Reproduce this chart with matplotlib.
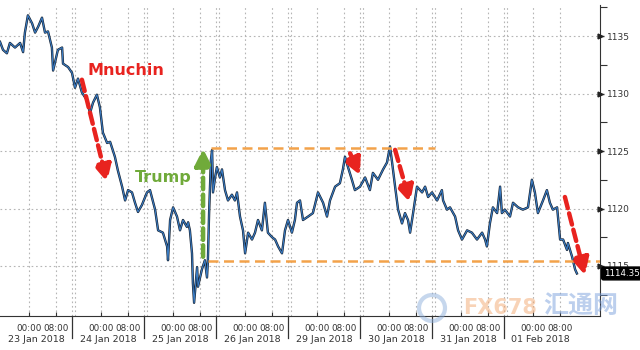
import matplotlib
matplotlib.use("Agg")
import matplotlib.pyplot as plt
import matplotlib.transforms as mtransforms
from matplotlib.patches import Ellipse

# trading hours since start (24 per trading day) and index level
hours = [
    0.0, 1.0, 2.3, 3.3, 5.0, 6.7, 7.7, 8.3, 9.3, 10.7,
    11.7, 12.7, 14.0, 15.0, 16.0, 17.3, 17.7, 19.3, 20.7, 21.0,
    22.7, 24.0, 25.0, 26.0, 27.3, 29.0, 30.0, 31.0, 32.3, 33.3,
    34.3, 35.7, 36.7, 38.3, 39.3, 40.7, 41.7, 42.7, 44.0, 45.0,
    46.0, 47.3, 49.0, 50.0, 51.7, 52.7, 54.3, 55.7, 56.0, 56.7,
    57.7, 59.0, 60.0, 61.0, 62.3, 62.7, 63.3, 64.0, 64.3, 64.7,
    65.7, 66.0, 67.3, 68.3, 69.0, 69.3, 69.7, 70.3, 70.7, 71.0,
    71.7, 72.3, 73.3, 74.0, 75.0, 76.0, 77.3, 78.3, 79.0, 80.0,
    81.0, 81.7, 82.7, 84.0, 85.0, 86.0, 87.3, 88.3, 89.3, 90.7,
    91.7, 92.7, 94.0, 95.0, 96.0, 97.3, 98.3, 99.0, 100.0, 101.0,
    102.7, 104.3, 106.0, 107.7, 109.0, 110.0, 111.7, 113.3, 114.3, 115.0,
    116.0, 117.3, 118.3, 120.0, 121.7, 123.3, 124.3, 126.0, 127.7, 129.0,
    130.0, 130.7, 131.7, 132.7, 134.0, 135.0, 136.0, 136.7, 137.7, 139.0,
    140.7, 141.7, 142.7, 144.0, 145.7, 147.3, 147.7, 149.0, 150.0, 151.7,
    152.7, 154.0, 155.7, 157.3, 159.0, 160.7, 161.7, 162.3, 163.3, 164.3,
    165.7, 166.7, 167.3, 168.3, 170.0, 171.0, 172.7, 174.3, 176.0, 177.3,
    178.3, 179.3, 181.0, 182.3, 183.3, 184.3, 185.7, 186.7, 187.7, 189.0,
    189.3, 190.7, 191.7, 192.3,
]
price = [
    1134.5, 1133.8, 1133.5, 1134.4, 1134.0, 1134.4, 1133.6, 1135.3, 1136.8, 1136.1,
    1135.3, 1135.8, 1136.6, 1135.3, 1135.4, 1134.0, 1132.0, 1133.8, 1134.0, 1132.6,
    1132.3, 1131.8, 1130.5, 1131.3, 1130.1, 1129.4, 1128.3, 1129.2, 1129.9, 1128.8,
    1126.6, 1125.7, 1125.8, 1124.5, 1123.3, 1121.9, 1120.7, 1121.6, 1121.4, 1120.5,
    1119.7, 1120.3, 1121.4, 1121.6, 1119.9, 1118.1, 1117.9, 1116.7, 1115.5, 1119.0,
    1120.1, 1119.3, 1118.1, 1119.0, 1118.4, 1118.8, 1118.1, 1116.1, 1113.5, 1111.8,
    1114.9, 1113.2, 1114.7, 1115.5, 1114.0, 1115.5, 1119.6, 1124.2, 1125.1, 1121.4,
    1122.7, 1123.6, 1122.7, 1123.4, 1121.6, 1120.7, 1121.2, 1120.7, 1121.4, 1119.3,
    1118.1, 1116.1, 1117.9, 1117.3, 1117.9, 1119.0, 1118.1, 1120.5, 1117.9, 1117.5,
    1117.3, 1116.7, 1116.1, 1118.1, 1119.0, 1117.9, 1119.0, 1120.5, 1120.7, 1119.0,
    1119.3, 1119.6, 1121.4, 1120.5, 1119.3, 1120.7, 1121.9, 1122.2, 1123.4, 1124.5,
    1123.6, 1122.5, 1121.6, 1121.9, 1122.7, 1121.6, 1123.1, 1122.5, 1123.4, 1124.0,
    1125.4, 1124.0, 1121.9, 1119.9, 1118.7, 1119.6, 1119.0, 1117.9, 1119.6, 1121.9,
    1121.4, 1121.9, 1121.0, 1121.4, 1120.7, 1121.6, 1120.7, 1119.9, 1120.1, 1119.3,
    1118.1, 1117.3, 1118.1, 1117.9, 1117.3, 1117.9, 1117.3, 1116.7, 1118.7, 1120.1,
    1119.6, 1121.9, 1119.6, 1119.9, 1119.3, 1120.5, 1120.1, 1119.9, 1120.1, 1122.5,
    1121.4, 1119.6, 1120.7, 1121.6, 1120.5, 1119.9, 1120.1, 1117.3, 1117.3, 1116.4,
    1117.0, 1115.8, 1114.7, 1114.35,
]
days = ["23 Jan 2018", "24 Jan 2018", "25 Jan 2018", "26 Jan 2018",
        "29 Jan 2018", "30 Jan 2018", "31 Jan 2018", "01 Feb 2018"]
yticks = [1115, 1120, 1125, 1130, 1135]
last_value = 1114.35

# support / resistance band
resist, resist_x = 1125.3, (70.3, 145.0)
support, support_x = 1115.4, (69.3, 200.0)

RED = "#e8231f"
GREEN = "#70aa3a"
ORANGE = "#f3a24a"

fig = plt.figure(figsize=(6.4, 3.5), dpi=100)
ax = fig.add_axes([0.0, 1 - 316 / 350, 600 / 640, 311 / 350])
ax.set_xlim(0, 200)
ax.set_ylim(1110.65, 1137.7)

# grid
grid_kw = dict(color="#b5b5b5", lw=0.8, ls=(0, (1.5, 2.5)), zorder=0)
for y in yticks:
    ax.axhline(y, **grid_kw)
for d in range(len(days)):
    for off in (9.5, 18.5):
        ax.axvline(d * 24 + off, **grid_kw)
    if d > 0:
        ax.axvline(d * 24, **grid_kw)
        ax.axvline(d * 24 + 1, **grid_kw)

# price line (dark edge + blue)
ax.plot(hours, price, color="#15202e", lw=1.7, zorder=3)
ax.plot(hours, price, color="#3a7cc4", lw=0.8, zorder=4)

# orange dashed band
ax.plot(resist_x, [resist, resist], color=ORANGE, lw=1.8, ls=(0, (4, 2.2)), zorder=5)
ax.plot(support_x, [support, support], color=ORANGE, lw=1.8, ls=(0, (4, 2.2)), zorder=5)


def dashed_arrow(start, end, color):
    ax.annotate("", xy=end, xytext=start,
                arrowprops=dict(arrowstyle="-|>,head_length=1.0,head_width=0.5",
                                color=color, lw=3.2, ls=(0, (2.6, 1.2)),
                                shrinkA=0, shrinkB=0, mutation_scale=10),
                zorder=6)


dashed_arrow((27.3, 1131.2), (35.7, 1122.3), RED)
dashed_arrow((116.7, 1124.8), (120.0, 1122.9), RED)
dashed_arrow((131.7, 1125.1), (136.7, 1120.5), RED)
dashed_arrow((188.3, 1121.0), (195.0, 1114.2), RED)
dashed_arrow((67.7, 1115.8), (67.7, 1125.2), GREEN)

ax.text(29.3, 1132.0, "Mnuchin", color=RED, fontsize=11.5, fontweight="bold",
        ha="left", va="center", zorder=7)
ax.text(45.0, 1122.7, "Trump", color=GREEN, fontsize=11.5, fontweight="bold",
        ha="left", va="center", zorder=7)

# axes styling
for s in ("top", "left"):
    ax.spines[s].set_visible(False)
ax.spines["right"].set_color("#333333")
ax.spines["bottom"].set_color("#333333")
ax.yaxis.tick_right()
ax.set_yticks(yticks)
ax.set_yticks([1112.5, 1117.5, 1122.5, 1127.5, 1132.5, 1137.5], minor=True)
ax.tick_params(axis="y", which="major", length=3, width=1, colors="#333333",
               labelsize=6.5, pad=2)
ax.tick_params(axis="y", which="minor", length=5, width=0.8, colors="#333333")
ax.plot([1.0] * len(yticks), yticks, marker=">", ms=3.5, color="#222222", ls="none",
        transform=ax.get_yaxis_transform(), clip_on=False, zorder=8)

xt = [d * 24 + off for d in range(len(days)) for off in (9.5, 18.5)]
ax.set_xticks(xt)
ax.set_xticklabels([])
ax.tick_params(axis="x", direction="in", length=3, width=0.8, colors="#333333")

trans = mtransforms.blended_transform_factory(ax.transData, ax.transAxes)
for d, label in enumerate(days):
    ax.text(d * 24 + 9.8, -0.025, "00:00", transform=trans, ha="center", va="top",
            fontsize=6.3, color="#333333")
    ax.text(d * 24 + 18.8, -0.025, "08:00", transform=trans, ha="center", va="top",
            fontsize=6.3, color="#333333")
    ax.text(d * 24 + 12, -0.06, label, transform=trans, ha="center", va="top",
            fontsize=6.8, color="#333333")
    if d > 0:
        ax.plot([d * 24, d * 24], [0, -0.07], transform=trans, color="#333333",
                lw=0.9, clip_on=False)

# last value tag
tag_trans = mtransforms.blended_transform_factory(ax.transAxes, ax.transData)
ax.text(1.006, last_value, f"{last_value:.2f}", transform=tag_trans, ha="left",
        va="center", fontsize=6.3, color="white", zorder=10,
        bbox=dict(boxstyle="round,pad=0.22", fc="black", ec="black"))

# watermark
fig.add_artist(Ellipse((432 / 640, 1 - 308 / 350), 26 / 640, 26 / 350,
                       transform=fig.transFigure, fill=False, ec="#8fb0dc",
                       lw=3, alpha=0.5))
fig.text(463 / 640, 1 - 308 / 350, "FX678", color="#f3a870", alpha=0.5,
         fontsize=15, fontweight="bold", ha="left", va="center")
fig.text(543 / 640, 1 - 306 / 350, "汇通网", color="#7aa0dc", alpha=0.5,
         fontsize=18, fontweight="bold", ha="left", va="center",
         family=["Noto Sans CJK SC", "DejaVu Sans"])

fig.savefig("out.png", dpi=100, facecolor="white")
